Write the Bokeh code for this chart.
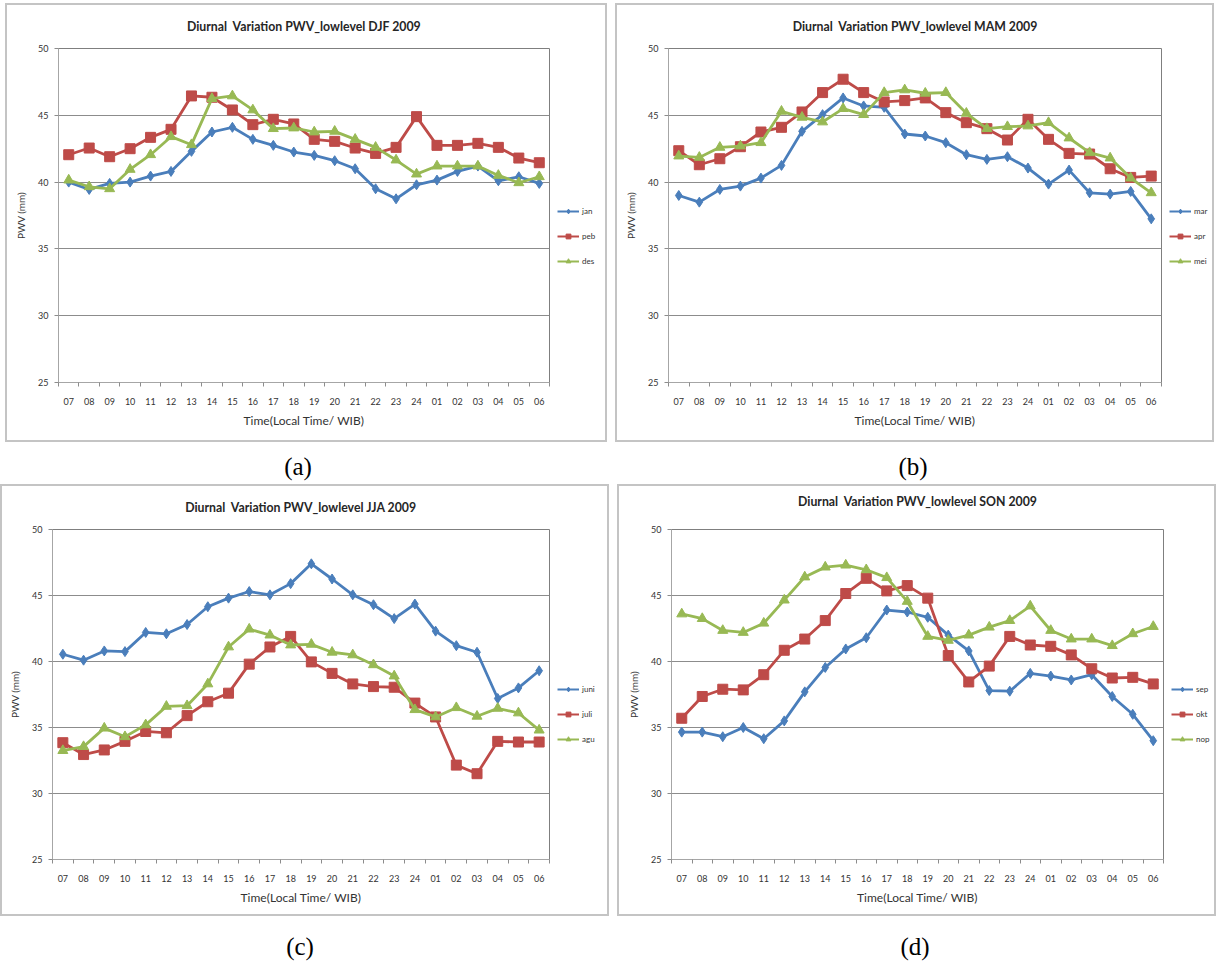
from bokeh.plotting import figure
from bokeh.models import FixedTicker, Legend, LegendItem, Div, Range1d, ColumnDataSource, Spacer
from bokeh.layouts import column, row
from bokeh.embed import file_html
from bokeh.resources import INLINE

# ---------------- data ----------------
hours = ["07", "08", "09", "10", "11", "12", "13", "14", "15", "16", "17", "18",
         "19", "20", "21", "22", "23", "24", "01", "02", "03", "04", "05", "06"]

# DJF 2009
jan = [40.0, 39.45, 39.9, 40.0, 40.45, 40.8, 42.3, 43.75, 44.1, 43.2, 42.75, 42.25,
       42.0, 41.6, 41.0, 39.5, 38.75, 39.8, 40.15, 40.8, 41.2, 40.1, 40.4, 39.9]
peb = [42.05, 42.55, 41.9, 42.5, 43.35, 43.95, 46.45, 46.35, 45.4, 44.3, 44.7, 44.35,
       43.2, 43.05, 42.55, 42.15, 42.6, 44.9, 42.75, 42.75, 42.9, 42.6, 41.8, 41.45]
des = [40.15, 39.65, 39.5, 40.95, 42.05, 43.4, 42.8, 46.25, 46.45, 45.4, 44.0, 44.05,
       43.75, 43.8, 43.2, 42.6, 41.65, 40.6, 41.2, 41.2, 41.2, 40.5, 39.95, 40.4]

# MAM 2009
mar = [39.0, 38.5, 39.45, 39.7, 40.3, 41.25, 43.8, 45.05, 46.3, 45.7, 45.6, 43.6,
       43.45, 42.95, 42.05, 41.7, 41.9, 41.05, 39.85, 40.9, 39.2, 39.1, 39.3, 37.25]
apr = [42.35, 41.3, 41.75, 42.65, 43.75, 44.1, 45.25, 46.7, 47.7, 46.7, 46.0, 46.1,
       46.3, 45.2, 44.45, 44.0, 43.15, 44.7, 43.2, 42.15, 42.1, 41.0, 40.35, 40.45]
mei = [41.95, 41.85, 42.6, 42.7, 42.95, 45.3, 44.85, 44.5, 45.5, 45.05, 46.7, 46.9,
       46.65, 46.7, 45.15, 44.0, 44.15, 44.2, 44.45, 43.3, 42.2, 41.8, 40.3, 39.2]

# JJA 2009
juni = [40.55, 40.1, 40.8, 40.75, 42.2, 42.1, 42.8, 44.15, 44.8, 45.3, 45.05, 45.9,
        47.4, 46.25, 45.05, 44.3, 43.25, 44.35, 42.3, 41.2, 40.7, 37.2, 38.0, 39.3]
juli = [33.85, 32.95, 33.3, 33.95, 34.7, 34.6, 35.9, 36.95, 37.6, 39.8, 41.1, 41.9,
        39.97, 39.1, 38.3, 38.1, 38.05, 36.85, 35.8, 32.15, 31.5, 33.95, 33.9, 33.9]
agu = [33.25, 33.55, 34.95, 34.3, 35.2, 36.6, 36.65, 38.3, 41.1, 42.45, 42.0, 41.25,
       41.3, 40.7, 40.5, 39.75, 38.9, 36.35, 35.8, 36.5, 35.85, 36.45, 36.1, 34.8]

# SON 2009
sep = [34.65, 34.65, 34.3, 35.0, 34.15, 35.5, 37.7, 39.55, 40.95, 41.8, 43.9, 43.75,
       43.35, 42.0, 40.8, 37.8, 37.75, 39.1, 38.9, 38.6, 39.0, 37.35, 36.0, 34.0]
okt = [35.7, 37.35, 37.9, 37.85, 39.0, 40.85, 41.7, 43.1, 45.15, 46.3, 45.35, 45.75,
       44.8, 40.45, 38.45, 39.65, 41.9, 41.25, 41.15, 40.5, 39.45, 38.75, 38.8, 38.3]
nop = [43.6, 43.25, 42.35, 42.2, 42.9, 44.65, 46.4, 47.15, 47.3, 46.95, 46.35, 44.55,
       41.9, 41.6, 42.0, 42.6, 43.1, 44.2, 42.35, 41.7, 41.7, 41.2, 42.1, 42.65]

y_ticks = [25, 30, 35, 40, 45, 50]
grid_ticks = [30, 35, 40, 45]

NB = "\u00a0"  # keeps the double space of the original titles visible in SVG
titles = ["Diurnal " + NB + "Variation PWV_lowlevel DJF 2009",
          "Diurnal " + NB + "Variation PWV_lowlevel MAM 2009",
          "Diurnal " + NB + "Variation PWV_lowlevel JJA 2009",
          "Diurnal " + NB + "Variation PWV_lowlevel SON 2009"]
captions = ["(a)", "(b)", "(c)", "(d)"]
x_title = "Time(Local Time/ WIB)"
y_title = "PWV (mm)"

# ---------------- style ----------------
COLORS = ["#4A7EBB", "#BE4B48", "#98B954"]
MARKERS = ["diamond", "square", "triangle"]
MSIZES = [10, 10, 10]
FONT = "Lato"
BORDER = {"outline": "2px solid #c4c4c4", "outline-offset": "0px"}


def make_panel(title, names, series, width, height, borders, title_standoff, legend_y,
               title_two_lines=False):
    bl, br, bt, bb = borders
    fw = width - bl - br
    fh = height - bt - bb
    p = figure(frame_width=fw, frame_height=fh, output_backend="svg", toolbar_location=None,
               x_range=Range1d(-0.5, len(hours) - 0.5), y_range=Range1d(25, 50),
               min_border_left=bl, min_border_right=2, min_border_top=bt, min_border_bottom=bb)
    p.background_fill_color = "white"
    p.border_fill_color = "white"
    p.outline_line_color = "#7f7f7f"
    p.outline_line_width = 1

    p.title.text = title + ("\n" if title_two_lines else "")
    p.title.text_font = FONT
    p.title.text_font_size = "12.3px"
    p.title.text_font_style = "bold"
    p.title.text_color = "#262626"
    p.title.align = "center"
    p.title.vertical_align = "top"
    p.title.standoff = title_standoff

    xs = list(range(len(hours)))

    # legend area: a narrow figure of its own inside the same panel border;
    # its ranges keep the series out of view so that only the legend shows
    lw = br - 2
    lg = figure(frame_width=lw, frame_height=fh, output_backend="svg", toolbar_location=None,
                x_range=Range1d(0, 1), y_range=Range1d(0, 1),
                x_axis_type=None, y_axis_type=None,
                min_border_left=0, min_border_right=0, min_border_top=bt, min_border_bottom=bb)
    lg.outline_line_color = None
    lg.grid.visible = False
    lg.background_fill_color = "white"
    lg.border_fill_color = "white"

    items = []
    for name, vals, col, mk, ms in zip(names, series, COLORS, MARKERS, MSIZES):
        src = ColumnDataSource(dict(x=xs, y=vals))
        p.line("x", "y", source=src, line_color=col, line_width=2.8)
        p.scatter("x", "y", source=src, marker=mk, size=ms, fill_color=col, line_color=col)
        lr = lg.line("x", "y", source=src, line_color=col, line_width=2)
        sr = lg.scatter("x", "y", source=src, marker=mk, size=ms, fill_color=col, line_color=col)
        items.append(LegendItem(label=name, renderers=[lr, sr]))

    leg = Legend(items=items, location=(6, legend_y), orientation="vertical",
                 glyph_width=22, glyph_height=12, label_height=12, spacing=13,
                 padding=0, margin=0, border_line_color=None, background_fill_alpha=0,
                 label_text_font=FONT, label_text_font_size="8px", label_text_color="#333333",
                 label_standoff=3, label_width=10)
    lg.add_layout(leg)

    xa = p.xaxis[0]
    xa.ticker = FixedTicker(ticks=xs, minor_ticks=[i - 0.5 for i in range(len(hours) + 1)])
    xa.major_label_overrides = {i: h for i, h in enumerate(hours)}
    xa.major_tick_out = 0
    xa.major_tick_in = 0
    xa.minor_tick_out = 4
    xa.minor_tick_in = 0
    xa.minor_tick_line_color = "#8c8c8c"
    xa.axis_line_color = "#a6a6a6"
    xa.major_label_text_font = FONT
    xa.major_label_text_font_size = "9px"
    xa.major_label_text_color = "#333333"
    xa.major_label_standoff = 11
    xa.axis_label = x_title
    xa.axis_label_text_font = FONT
    xa.axis_label_text_font_size = "12px"
    xa.axis_label_text_font_style = "normal"
    xa.axis_label_text_color = "#333333"
    xa.axis_label_standoff = 5

    ya = p.yaxis[0]
    ya.ticker = FixedTicker(ticks=y_ticks)
    ya.major_tick_out = 4
    ya.major_tick_in = 0
    ya.minor_tick_out = 0
    ya.minor_tick_in = 0
    ya.major_tick_line_color = "#8c8c8c"
    ya.axis_line_color = "#a6a6a6"
    ya.major_label_text_font = FONT
    ya.major_label_text_font_size = "9px"
    ya.major_label_text_color = "#333333"
    ya.major_label_standoff = 6
    ya.axis_label = y_title
    ya.axis_label_text_font = FONT
    ya.axis_label_text_font_size = "10px"
    ya.axis_label_text_font_style = "normal"
    ya.axis_label_text_color = "#333333"
    ya.axis_label_standoff = 8

    p.xgrid.visible = False
    p.ygrid.ticker = FixedTicker(ticks=grid_ticks)
    p.ygrid.grid_line_color = "#8c8c8c"
    p.ygrid.grid_line_width = 1
    return row(p, lg, styles=BORDER)


def caption(text, width, height, pad_top, shift):
    html = ('<div style="width:%dpx;text-align:center;font-family:\'Liberation Serif\';'
            'font-size:25px;line-height:25px;padding-top:%dpx;padding-right:%dpx;'
            'box-sizing:border-box;color:#000">%s</div>' % (width, pad_top, shift, text))
    return Div(text=html, width=width, height=height, margin=0)


pa = make_panel(titles[0], ["jan", "peb", "des"], [jan, peb, des], 598, 435, (51, 56, 43, 58), 26, 115)
pb = make_panel(titles[1], ["mar", "apr", "mei"], [mar, apr, mei], 595, 435, (51, 51, 43, 58), 25, 115)
pc = make_panel(titles[2], ["juni", "juli", "agu"], [juni, juli, agu], 605, 428, (50, 58, 43, 55), 26, 114)
pd_ = make_panel(titles[3], ["sep", "okt", "nop"], [sep, okt, nop], 595, 428, (52, 51, 43, 55), 7, 114,
                 title_two_lines=True)

ca = caption(captions[0], 598, 46, 14, 16)
cb = caption(captions[1], 595, 46, 14, 3)
cc = caption(captions[2], 605, 44, 20, 9)
cd = caption(captions[3], 595, 44, 20, 3)

layout = column(
    Spacer(width=10, height=5, margin=0),
    row(Spacer(width=7, height=10, margin=0), pa, Spacer(width=12, height=10, margin=0), pb),
    row(Spacer(width=7, height=10, margin=0), ca, Spacer(width=12, height=10, margin=0), cb),
    row(Spacer(width=2, height=10, margin=0), pc, Spacer(width=12, height=10, margin=0), pd_),
    row(Spacer(width=2, height=10, margin=0), cc, Spacer(width=12, height=10, margin=0), cd),
)

open("out.html", "w").write(file_html(layout, INLINE))
